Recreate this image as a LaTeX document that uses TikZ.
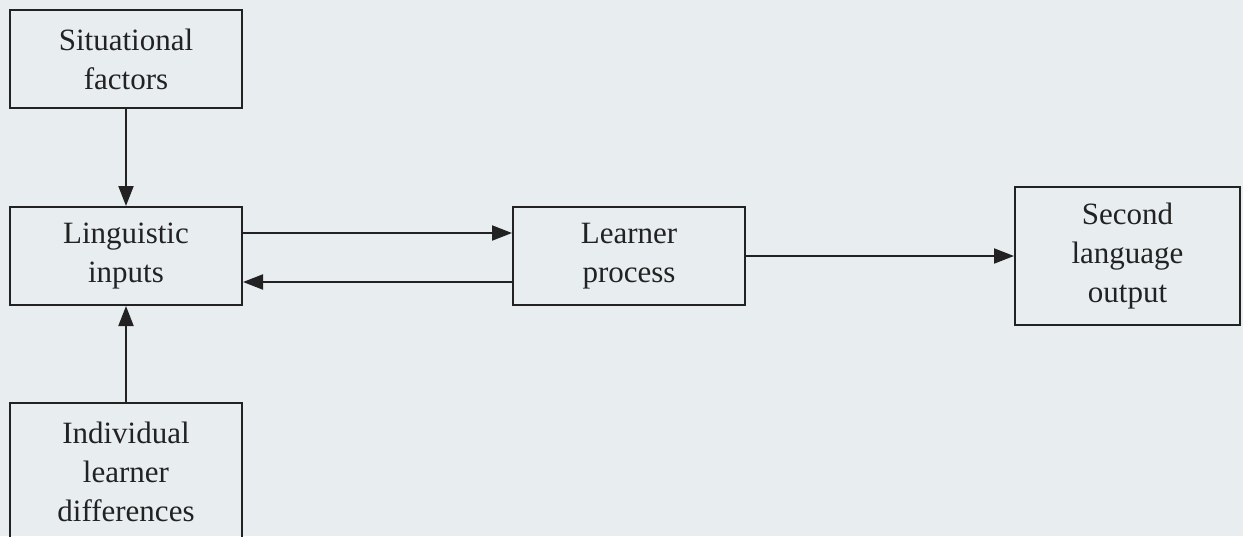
\documentclass[tikz,border=0pt]{standalone}
\usepackage{fontspec}
\setmainfont{Liberation Serif}
\usetikzlibrary{arrows.meta}
\definecolor{bg}{HTML}{E8EDF0}
\definecolor{ink}{HTML}{222222}
\begin{document}
\begin{tikzpicture}[x=1pt,y=-1pt,
  box/.style={draw=ink, line width=2pt, inner sep=0pt, text=ink, align=center,
    font=\fontsize{31}{39}\selectfont},
  arr/.style={draw=ink, line width=2pt, -{Triangle[length=20pt,width=15pt]}}]
\fill[bg] (0,0) rectangle (1243,536);
\useasboundingbox (0,0) rectangle (1243,536);
\clip (0,0) rectangle (1243,536);
\node[box, minimum width=232pt, minimum height=98pt] (sit) at (126,59) {Situational\\factors};
\node[box, minimum width=232pt, minimum height=98pt] (ling) at (126,256) {Linguistic\\inputs};
\node[box, minimum width=232pt, minimum height=138pt] (ind) at (126,472) {Individual\\learner\\differences};
\node[box, minimum width=232pt, minimum height=98pt] (lp) at (629,256) {Learner\\process};
\node[box, minimum width=225pt, minimum height=138pt] (out) at (1127.5,256) {Second\\language\\output};
\draw[arr] (sit.south) -- (ling.north);
\draw[arr] (ind.north) -- (ling.south);
\draw[arr] ([yshift=23pt]ling.east) -- ([yshift=23pt]lp.west);
\draw[arr] ([yshift=-26pt]lp.west) -- ([yshift=-26pt]ling.east);
\draw[arr] (lp.east) -- (out.west);
\end{tikzpicture}
\end{document}
